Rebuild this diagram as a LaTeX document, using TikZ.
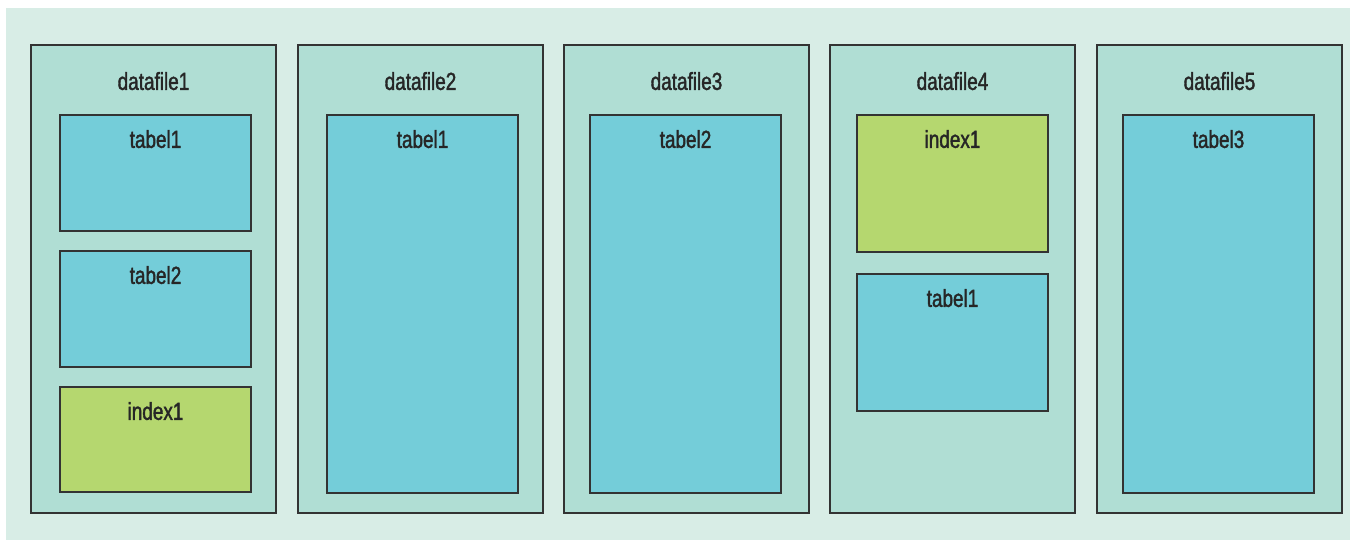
\documentclass[tikz,border=0pt]{standalone}
\usepackage{fontspec}
\newfontfamily\lblfont{Liberation Sans}[FakeStretch=0.77,FakeBold=1.6]
\usepackage{xcolor}
\definecolor{bg}{HTML}{D8EDE6}
\definecolor{filegreen}{HTML}{B0DED4}
\definecolor{tabelblue}{HTML}{74CDD9}
\definecolor{indexgreen}{HTML}{B5D76F}
\definecolor{edge}{HTML}{333333}

\begin{document}
\begin{tikzpicture}[x=0.02cm, y=-0.02cm,
            every node/.style = {line width=0.7pt, draw=edge, inner sep=0pt},
            datafile/.style = {rectangle,
            minimum width=4.9cm, minimum height=9.36cm,
            fill=filegreen},
            tabel/.style = {rectangle,
            minimum width=3.82cm,
            fill=tabelblue},
            index/.style = {tabel, fill=indexgreen},
            lbl/.style = {draw=none, anchor=north,
            font=\lblfont\fontsize{14}{16}\selectfont, text=black!85},
            flbl/.style = {lbl, yshift=-0.54cm},
            tlbl/.style = {lbl, yshift=-0.30cm}]
        % Background
        \useasboundingbox (0,0) rectangle (1355,540);
        \fill[bg] (6,8) rectangle (1350,540);

        % Datafile 1
        \node[datafile,label={[flbl]north:datafile1}] (df1) at (153.5,279) {};
        \node[tabel,minimum height=2.32cm,label={[tlbl]north:tabel1}] (df1t1) at (155.5,173) {};
        \node[tabel,minimum height=2.32cm,label={[tlbl]north:tabel2}] (df1t2) at (155.5,309) {};
        \node[index,minimum height=2.1cm,label={[tlbl]north:index1}] (df1i1) at (155.5,439.5) {};

        % Datafile 2
        \node[datafile,label={[flbl]north:datafile2}] (df2) at (420.5,279) {};
        \node[tabel,minimum height=7.56cm,label={[tlbl]north:tabel1}] (df2t1) at (422.5,304) {};

        % Datafile 3
        \node[datafile,label={[flbl]north:datafile3}] (df3) at (686.5,279) {};
        \node[tabel,minimum height=7.56cm,label={[tlbl]north:tabel2}] (df3t2) at (685.5,304) {};

        % Datafile 4
        \node[datafile,label={[flbl]north:datafile4}] (df4) at (952.5,279) {};
        \node[index,minimum height=2.74cm,label={[tlbl]north:index1}] (df4i1) at (952.5,183.5) {};
        \node[tabel,minimum height=2.74cm,label={[tlbl]north:tabel1}] (df4t1) at (952.5,342.5) {};

        % Datafile 5
        \node[datafile,label={[flbl]north:datafile5}] (df5) at (1219.5,279) {};
        \node[tabel,minimum height=7.56cm,label={[tlbl]north:tabel3}] (df5t3) at (1218.5,304) {};
    \end{tikzpicture}
\end{document}
